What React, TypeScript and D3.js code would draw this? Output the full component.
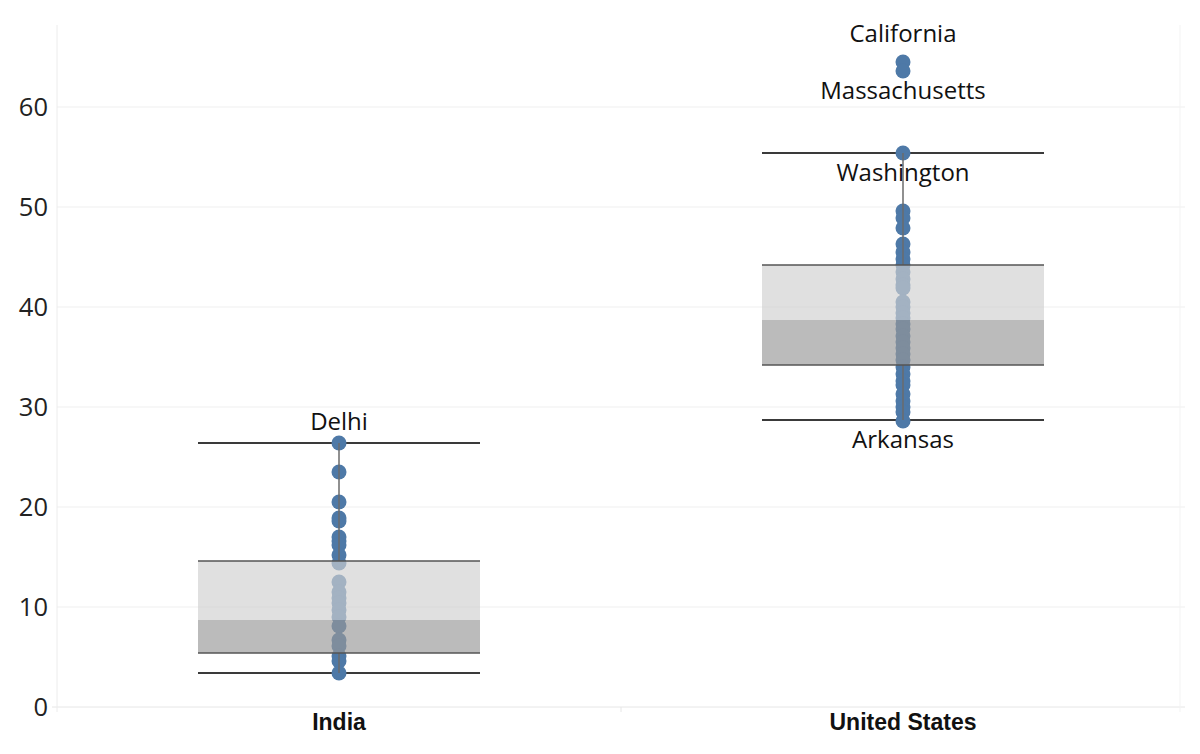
import React from "react";
import * as d3 from "d3";

const categories = ["India", "United States"];
const indiaValues = [26.4, 23.5, 20.5, 18.9, 18.6, 17.0, 16.6, 16.2, 15.2, 14.4, 12.5, 11.5, 10.9, 10.4, 9.7, 9.0, 8.1, 6.7, 6.1, 5.1, 4.6, 3.4];
const usValues = [64.5, 63.6, 55.4, 49.6, 48.9, 47.9, 46.3, 45.5, 44.8, 44.2, 43.5, 42.8, 42.2, 41.9, 40.5, 40.0, 39.4, 38.9, 38.3, 37.8, 37.1, 36.5, 35.9, 35.3, 34.7, 34.0, 33.3, 32.6, 32.2, 31.3, 30.6, 30.0, 29.5, 28.6];
const seriesValues = [indiaValues, usValues];
const whiskerLow = [3.4, 28.7];
const q1 = [5.4, 34.2];
const median = [8.7, 38.7];
const q3 = [14.6, 44.2];
const whiskerHigh = [26.4, 55.4];
const yTicks = [0, 10, 20, 30, 40, 50, 60];
const annotations = [
  { category: "India", label: "Delhi", value: 26.4, place: "above" },
  { category: "United States", label: "California", value: 64.5, place: "top" },
  { category: "United States", label: "Massachusetts", value: 63.6, place: "below" },
  { category: "United States", label: "Washington", value: 55.4, place: "below" },
  { category: "United States", label: "Arkansas", value: 28.7, place: "below" },
];

const W = 1200;
const H = 754;
const left = 57;
const right = 1185;
const top = 25;
const bottom = 707;
const placeOffset: Record<string, number> = { above: -22, top: -29, below: 19 };

export default function App() {
  const x = d3.scaleBand<string>().domain(categories).range([left, right]);
  const y = d3.scaleLinear().domain([0, 68.2]).range([bottom, top]);
  const bw = x.bandwidth();
  const boxW = bw * 0.5;
  const font = "'Open Sans', 'Noto Sans', sans-serif";
  const r = 7.5;

  return (
    <div style={{ position: "absolute", left: 0, top: 0 }}>
      <svg width={W} height={H} style={{ display: "block", background: "#fff" }}>
        {yTicks.map((t) => (
          <line key={"g" + t} x1={t === 0 ? 52 : left} x2={right} y1={y(t)} y2={y(t)} stroke={t === 0 ? "#e6e6e6" : "#efefef"} strokeWidth={1} />
        ))}
        <line x1={left} x2={left} y1={top} y2={bottom + 5} stroke="#ececec" strokeWidth={1} />
        <line x1={left + bw} x2={left + bw} y1={bottom} y2={bottom + 5} stroke="#e6e6e6" strokeWidth={1} />
        <line x1={right - 5} x2={right - 5} y1={top} y2={bottom + 5} stroke="#f3f3f3" strokeWidth={1} />
        {yTicks.map((t) => (
          <text key={"t" + t} x={48} y={y(t)} dy="0.36em" textAnchor="end" fontFamily={font} fontSize={25.5} fill="#222">
            {t}
          </text>
        ))}
        {categories.map((c, i) => {
          const cx = (x(c) as number) + bw / 2;
          return (
            <g key={c}>
              <line x1={cx - boxW / 2} x2={cx + boxW / 2} y1={y(whiskerHigh[i])} y2={y(whiskerHigh[i])} stroke="#3a3a3a" strokeWidth={2} />
              <line x1={cx - boxW / 2} x2={cx + boxW / 2} y1={y(whiskerLow[i])} y2={y(whiskerLow[i])} stroke="#3a3a3a" strokeWidth={2} />
              {seriesValues[i].map((v, j) => (
                <circle key={j} cx={cx} cy={y(v)} r={r} fill="#4e79a7" />
              ))}
              <line x1={cx} x2={cx} y1={y(whiskerHigh[i])} y2={y(q3[i])} stroke="#6b6b6b" strokeWidth={1.5} />
              <line x1={cx} x2={cx} y1={y(q1[i])} y2={y(whiskerLow[i])} stroke="#6b6b6b" strokeWidth={1.5} />
              <rect x={cx - boxW / 2} width={boxW} y={y(q3[i])} height={y(median[i]) - y(q3[i])} fill="rgb(208,208,208)" fillOpacity={0.655} />
              <rect x={cx - boxW / 2} width={boxW} y={y(median[i])} height={y(q1[i]) - y(median[i])} fill="rgb(151,151,151)" fillOpacity={0.655} />
              <line x1={cx - boxW / 2} x2={cx + boxW / 2} y1={y(q3[i])} y2={y(q3[i])} stroke="#555" strokeWidth={1.5} />
              <line x1={cx - boxW / 2} x2={cx + boxW / 2} y1={y(q1[i])} y2={y(q1[i])} stroke="#555" strokeWidth={1.5} />
              <text x={cx} y={722} dy="0.36em" textAnchor="middle" fontFamily="'Liberation Sans', Arial, sans-serif" fontWeight="bold" fontSize={23} fill="#111">
                {c}
              </text>
            </g>
          );
        })}
        {annotations.map((a) => {
          const cx = (x(a.category) as number) + bw / 2;
          const yy = y(a.value) + placeOffset[a.place];
          return (
            <text key={a.label} x={cx} y={yy} dy="0.36em" textAnchor="middle" fontFamily={font} fontSize={24} fill="#111">
              {a.label}
            </text>
          );
        })}
      </svg>
    </div>
  );
}
